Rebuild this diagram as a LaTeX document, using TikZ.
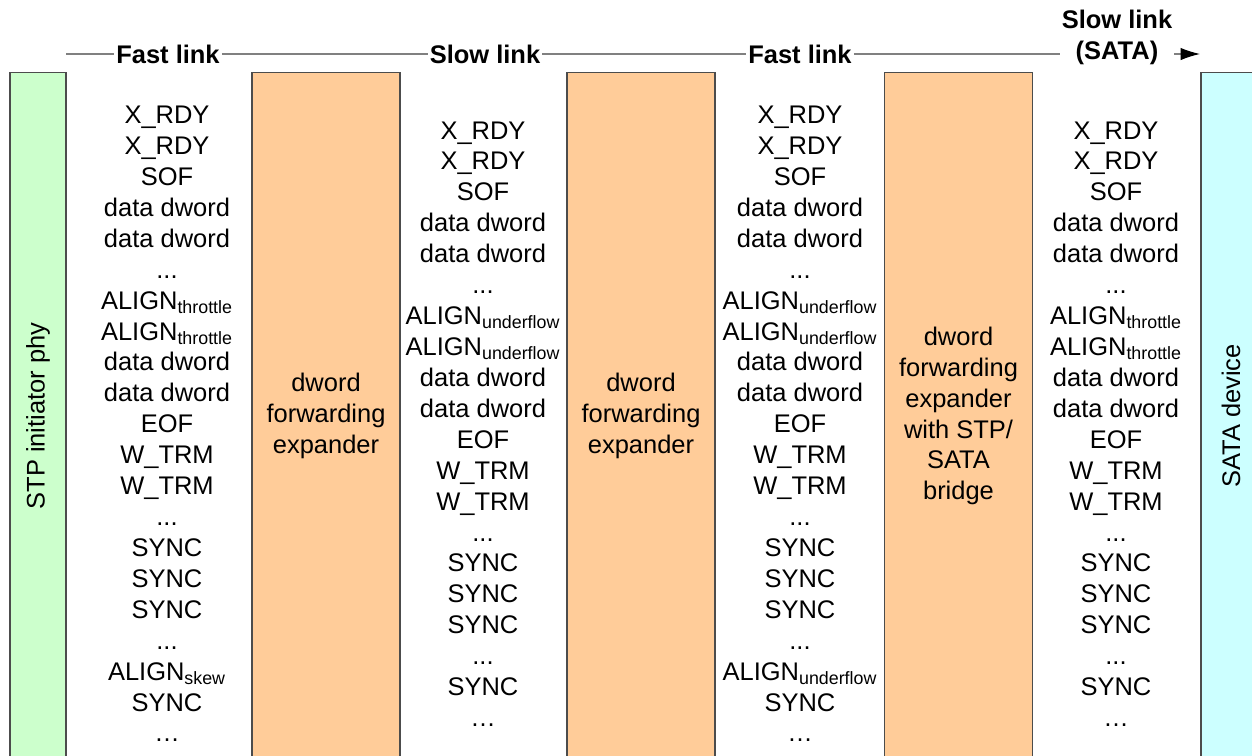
\documentclass[tikz,border=0pt]{standalone}
\usepackage{fontspec}
\setmainfont{Liberation Sans}
\usetikzlibrary{arrows.meta}

\definecolor{phyfill}{HTML}{CCFFCC}
\definecolor{expfill}{HTML}{FFCC99}
\definecolor{devfill}{HTML}{CCFFFF}

\newcommand{\alignsub}[1]{ALIGN\textsubscript{#1}}

\tikzset{
	every node/.style = {font = \fontsize{14.5}{17.6}\selectfont},
	box/.style = {draw = black!70, line width = 0.6pt, inner sep = 0pt, align = center},
	expbox/.style = {box, fill = expfill, minimum width = 2.96cm, minimum height = 13.76cm},
	endbox/.style = {box, rotate = 90, minimum width = 13.76cm},
	primlist/.style = {align = center, inner sep = 0pt},
	linklabel/.style = {inner sep = 1pt, font = \fontsize{14.5}{17.6}\selectfont\bfseries},
	linkline/.style = {draw = black!50, line width = 0.6pt}
}

\begin{document}
\begin{tikzpicture}[x = 0.02cm, y = -0.02cm, > = latex]

	\useasboundingbox (0, 0) rectangle (1252, 755);

	% Phys and expanders

	\begin{scope}
		\clip (0, 0) rectangle (1252, 755);
		\node [endbox, fill = phyfill, minimum height = 1.12cm] (phy) at (38, 416) {STP initiator phy};
		\node [expbox] (exp1) at (326, 416) {dword\\forwarding\\expander};
		\node [expbox] (exp2) at (641, 416) {dword\\forwarding\\expander};
		\node [expbox] (exp3) at (958.5, 416) {dword\\forwarding\\expander\\with STP/\\SATA\\bridge};
		\node [endbox, fill = devfill, minimum height = 1.2cm] (dev) at (1231, 416) {SATA device};
	\end{scope}

	% Link headers

	\coordinate (start) at (66, 54);
	\node [linklabel] (hd1) at (168, 54) {Fast link};
	\node [linklabel] (hd2) at (485, 54) {Slow link};
	\node [linklabel] (hd3) at (800, 54) {Fast link};
	\node [linklabel, align = center] (hd4) at (1117, 37) {Slow link\\(SATA)};
	\coordinate (tip) at (1200, 54);

	\draw [linkline] (start) -- (hd1) -- (hd2) -- (hd3) -- (hd3 -| hd4.west);
	\draw [linkline, -{Latex[length = 11pt, width = 7pt, color = black]}] (hd4.east |- hd3) -- (tip);

	% Primitive sequences on each link

	\node [primlist] (seq1) at (167, 424) {X\_RDY\\X\_RDY\\SOF\\data dword\\data dword\\...\\\alignsub{throttle}\\\alignsub{throttle}\\data dword\\data dword\\EOF\\W\_TRM\\W\_TRM\\...\\SYNC\\SYNC\\SYNC\\...\\\alignsub{skew}\\SYNC\\\ldots};
	\node [primlist] (seq2) at (483, 424) {X\_RDY\\X\_RDY\\SOF\\data dword\\data dword\\...\\\alignsub{underflow}\\\alignsub{underflow}\\data dword\\data dword\\EOF\\W\_TRM\\W\_TRM\\...\\SYNC\\SYNC\\SYNC\\...\\SYNC\\\ldots};
	\node [primlist] (seq3) at (800, 424) {X\_RDY\\X\_RDY\\SOF\\data dword\\data dword\\...\\\alignsub{underflow}\\\alignsub{underflow}\\data dword\\data dword\\EOF\\W\_TRM\\W\_TRM\\...\\SYNC\\SYNC\\SYNC\\...\\\alignsub{underflow}\\SYNC\\\ldots};
	\node [primlist] (seq4) at (1116, 424) {X\_RDY\\X\_RDY\\SOF\\data dword\\data dword\\...\\\alignsub{throttle}\\\alignsub{throttle}\\data dword\\data dword\\EOF\\W\_TRM\\W\_TRM\\...\\SYNC\\SYNC\\SYNC\\...\\SYNC\\\ldots};

\end{tikzpicture}
\end{document}
